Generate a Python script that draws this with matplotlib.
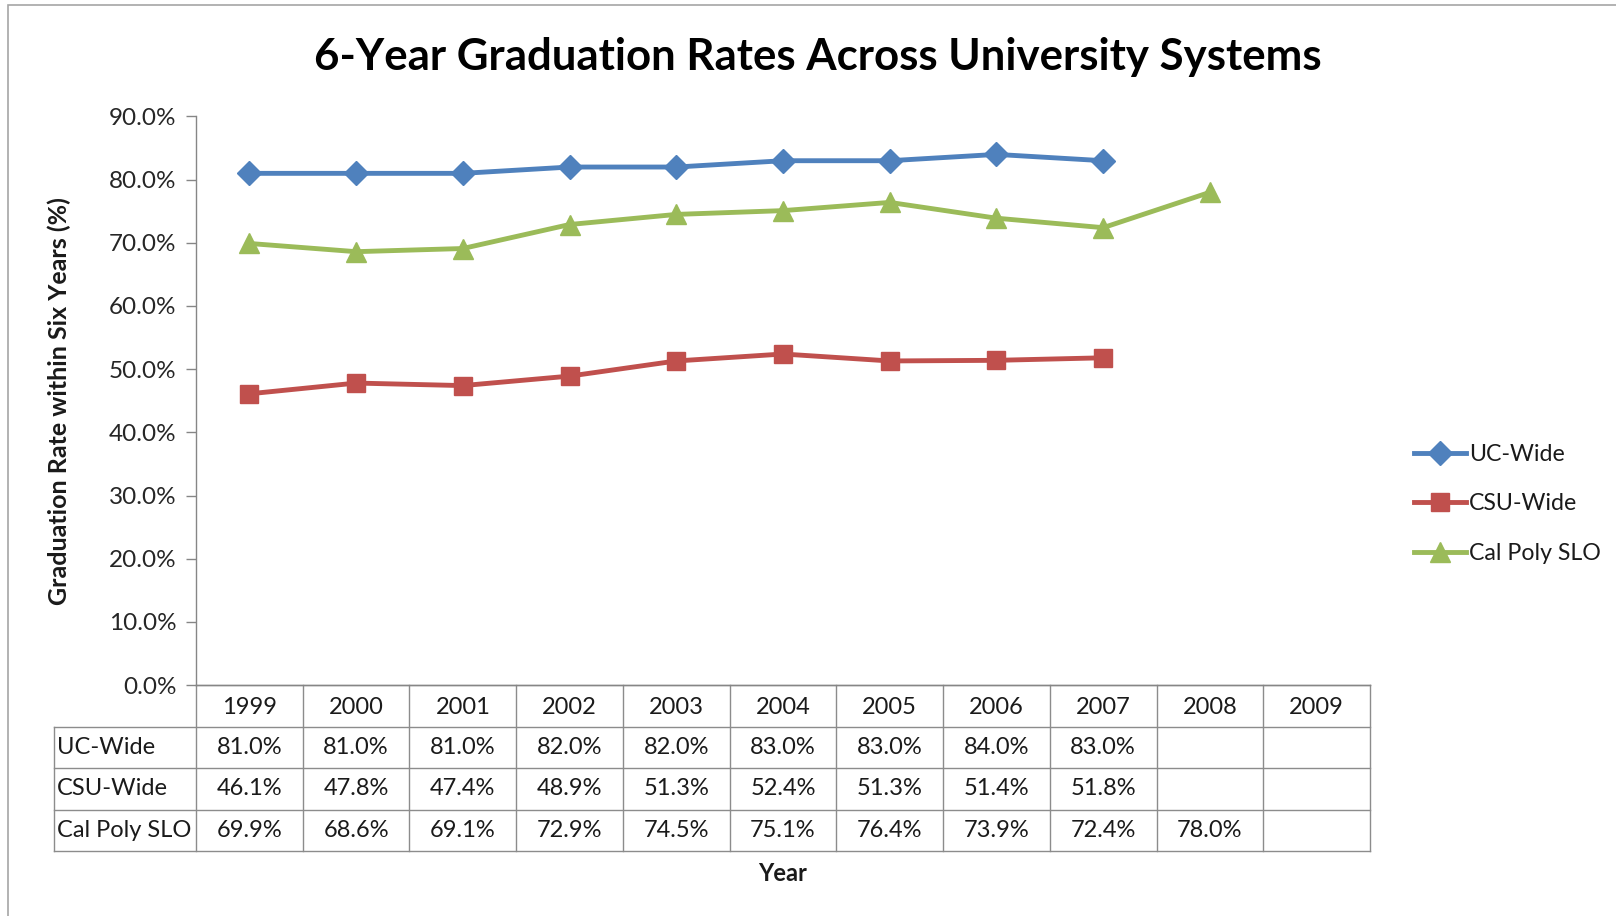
import numpy as np
import matplotlib
matplotlib.use('Agg')
import matplotlib.pyplot as plt
from matplotlib.patches import Rectangle
from matplotlib.ticker import FuncFormatter
import matplotlib.transforms as mtransforms

plt.rcParams['font.family'] = ['Lato', 'DejaVu Sans']

# data
years = ['1999', '2000', '2001', '2002', '2003', '2004', '2005', '2006', '2007', '2008', '2009']
uc_wide = [81.0, 81.0, 81.0, 82.0, 82.0, 83.0, 83.0, 84.0, 83.0, None, None]
csu_wide = [46.1, 47.8, 47.4, 48.9, 51.3, 52.4, 51.3, 51.4, 51.8, None, None]
cal_poly = [69.9, 68.6, 69.1, 72.9, 74.5, 75.1, 76.4, 73.9, 72.4, 78.0, None]
series_names = ['UC-Wide', 'CSU-Wide', 'Cal Poly SLO']
yticks = [0, 10, 20, 30, 40, 50, 60, 70, 80, 90]

W, H = 1616, 916
fig = plt.figure(figsize=(W / 100, H / 100), dpi=100)

# outer chart border
fig.patches.append(Rectangle((8 / W, -0.1), 1.2, 1 - 5 / H + 0.1, transform=fig.transFigure,
                             fill=False, edgecolor='#a6a6a6', linewidth=1.2))

# plot area in pixels
left, right, top, bottom = 196, 1370, 116.5, 685
ax = fig.add_axes([left / W, 1 - bottom / H, (right - left) / W, (bottom - top) / H])

colors = ['#4F81BD', '#C0504D', '#9BBB59']
markers = ['D', 's', '^']
msizes = [12, 13, 14]
all_series = [uc_wide, csu_wide, cal_poly]
x = np.arange(len(years))
for vals, name, c, m, ms in zip(all_series, series_names, colors, markers, msizes):
    y = np.array([np.nan if v is None else v for v in vals])
    ax.plot(x, y, color=c, marker=m, markersize=ms, linewidth=3.5, label=name,
            markeredgecolor=c, clip_on=False, zorder=3)

ax.set_xlim(-0.5, len(years) - 0.5)
ax.set_ylim(0, 90)
ax.set_yticks(yticks)
ax.yaxis.set_major_formatter(FuncFormatter(lambda v, p: f'{v:.1f}%'))
ax.tick_params(axis='y', direction='out', length=7, width=1, color='#868686',
               labelsize=17.5, labelcolor='#262626', pad=7)
ax.set_xticks([])
for s in ['top', 'right']:
    ax.spines[s].set_visible(False)
for s in ['left', 'bottom']:
    ax.spines[s].set_color('#868686')
    ax.spines[s].set_linewidth(1)

# data table under the plot
grid_c = '#8c8c8c'
txt_c = '#1a1a1a'
fs = 17
row_h = 41.5 / (bottom - top)  # in axes fraction
trans = mtransforms.blended_transform_factory(ax.transData, ax.transAxes)
n = len(years)
label_left = -0.5 - (left - 53.5) / ((right - left) / n)

# header row
for i, yr in enumerate(years):
    ax.text(i, -row_h * 0.55, yr, transform=trans, ha='center', va='center',
            fontsize=fs, color=txt_c, clip_on=False)
# data rows
for r, (name, vals) in enumerate(zip(series_names, all_series)):
    yc = -row_h * (r + 1.5)
    for i, v in enumerate(vals):
        if v is not None:
            ax.text(i, yc, f'{v:.1f}%', transform=trans, ha='center', va='center',
                    fontsize=fs, color=txt_c, clip_on=False)
    ax.text(label_left + 0.03, yc, name, transform=trans, ha='left', va='center',
            fontsize=fs, color=txt_c, clip_on=False)

# grid lines
for k in range(1, 5):
    yk = -row_h * k
    ax.plot([label_left, n - 0.5], [yk, yk], transform=trans, color=grid_c,
            linewidth=1, clip_on=False)
ax.plot([-0.5, n - 0.5], [0, 0], transform=trans, color=grid_c, linewidth=1, clip_on=False)
for i in range(n + 1):
    ax.plot([i - 0.5, i - 0.5], [0, -row_h * 4], transform=trans, color=grid_c,
            linewidth=1, clip_on=False)
ax.plot([label_left, label_left], [-row_h, -row_h * 4], transform=trans, color=grid_c,
        linewidth=1, clip_on=False)

ax.text(0.5, -row_h * 4 - 0.04, 'Year', transform=ax.transAxes, ha='center', va='center',
        fontsize=17, fontweight='bold', color=txt_c)
ax.set_ylabel('Graduation Rate within Six Years (%)', fontsize=18, fontweight='bold',
              color=txt_c)
ax.yaxis.set_label_coords(-(left - 59) / (right - left), (bottom - 401) / (bottom - top))
ax.yaxis.label.set_va('center')

fig.text(818 / W, 1 - 57 / H, '6-Year Graduation Rates Across University Systems',
         ha='center', va='center', fontsize=31.5, fontweight='bold', color='#000000')

leg = ax.legend(loc='center left', bbox_to_anchor=(1405 / W, 1 - 504 / H),
                bbox_transform=fig.transFigure, frameon=False, fontsize=16.7,
                handlelength=2.25, handletextpad=0.1, labelspacing=1.22, borderaxespad=0)
for t in leg.get_texts():
    t.set_color(txt_c)

fig.savefig('out.png', dpi=100)
